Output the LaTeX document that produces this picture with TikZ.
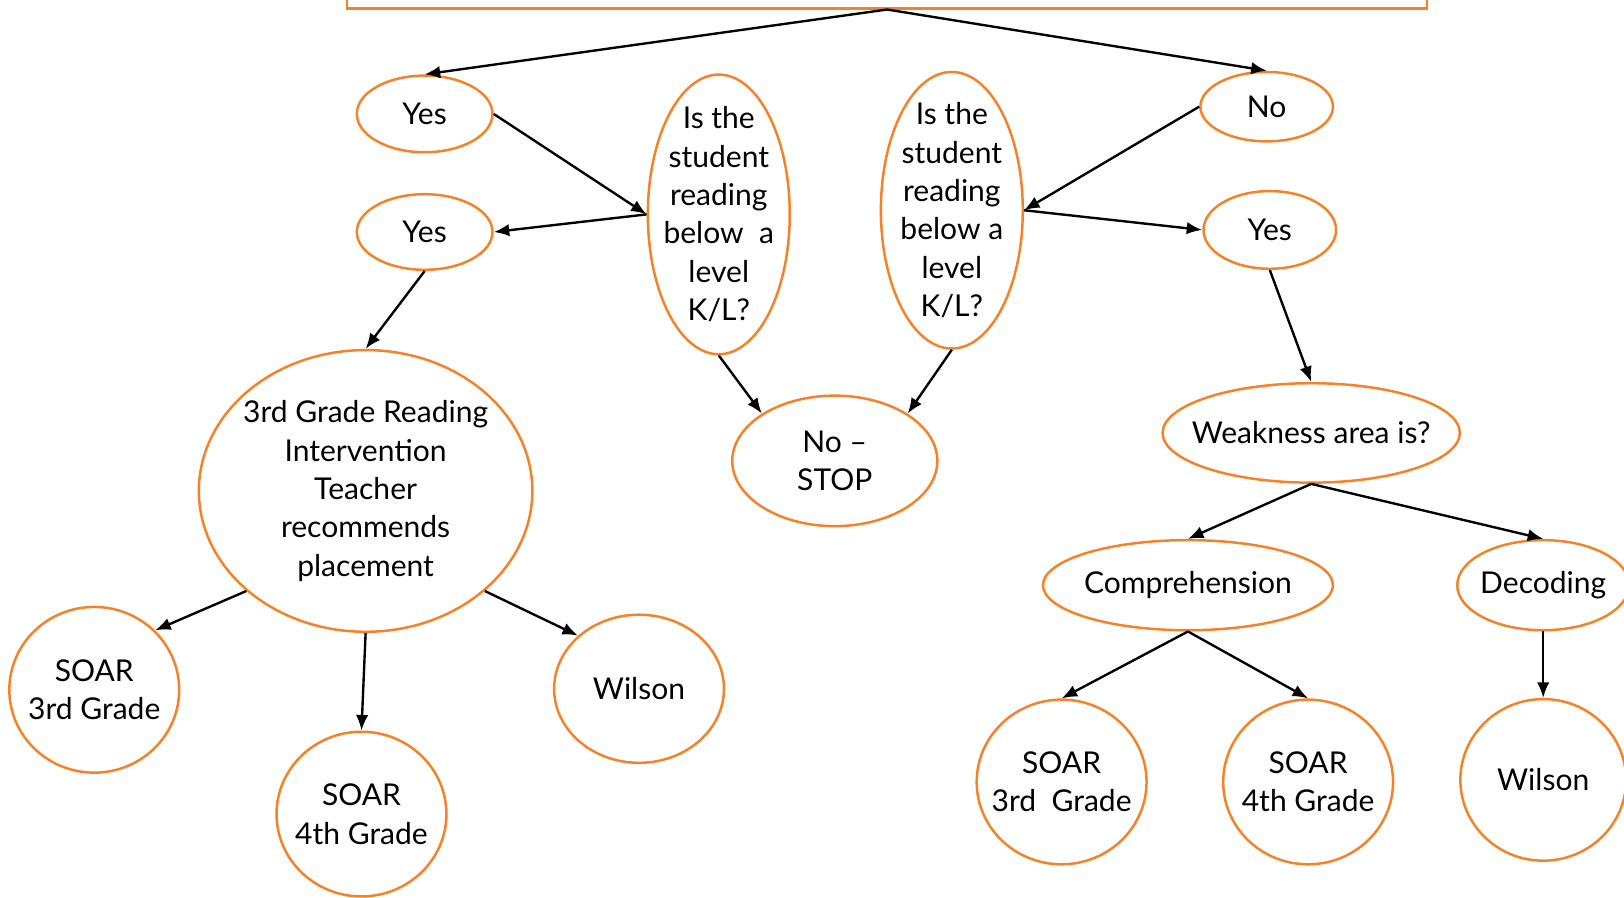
\documentclass[tikz,border=0pt]{standalone}
\usepackage{fontspec}
\setmainfont{Lato}
\usetikzlibrary{shapes.geometric,arrows.meta}

\definecolor{bubbleorange}{RGB}{245,130,40}

\tikzset{
  bubble/.style={ellipse, draw=bubbleorange, line width=2.4pt, inner sep=-25pt,
    align=center, font=\fontsize{29}{37}\selectfont},
  link/.style={line width=2.3pt, -{Latex[length=15pt,width=12pt]}}
}

\begin{document}
\begin{tikzpicture}[x=1pt,y=-1pt]
  % frame of the picture
  \useasboundingbox (0,0) rectangle (1568,867);

  % box at the top (cut off by the frame)
  \node[draw=bubbleorange, line width=2.4pt, minimum width=1043pt, minimum height=60pt] (start) at (856.5,-22) {};

  % first level
  \node[bubble, minimum width=131pt, minimum height=74pt] (yesA) at (410,110) {Yes};
  \node[bubble, minimum width=128pt, minimum height=67pt] (noA) at (1223,103) {No};
  \node[bubble, minimum width=137pt, minimum height=270pt] (askL) at (694,207)
    {Is the\\ student\\ reading\\ below~~a\\ level\\ K/L?};
  \node[bubble, minimum width=137pt, minimum height=267pt] (askR) at (919,203)
    {Is the\\ student\\ reading\\ below a\\ level\\ K/L?};

  % second level
  \node[bubble, minimum width=131pt, minimum height=73pt] (yesB) at (410,224) {Yes};
  \node[bubble, minimum width=128pt, minimum height=75pt] (yesC) at (1226,222) {Yes};
  \node[bubble, minimum width=198pt, minimum height=126pt] (stop) at (806,445) {No --\\ STOP};
  \node[bubble, minimum width=322pt, minimum height=272pt] (teacher) at (353,474)
    {3rd Grade Reading\\ Intervention\\ Teacher\\ recommends\\ placement};
  \node[bubble, minimum width=287pt, minimum height=96pt] (weak) at (1266,418) {Weakness area is?};
  \node[bubble, minimum width=280pt, minimum height=87pt] (comp) at (1147,565) {Comprehension};
  \node[bubble, minimum width=166pt, minimum height=87pt] (decod) at (1490,565) {Decoding};

  % programs
  \node[bubble, minimum width=164pt, minimum height=160pt] (soarLa) at (91,666) {SOAR\\ 3rd Grade};
  \node[bubble, minimum width=164pt, minimum height=159pt] (soarLb) at (349,786) {SOAR\\ 4th Grade};
  \node[bubble, minimum width=164pt, minimum height=143pt] (wilsonL) at (617,665) {Wilson};
  \node[bubble, minimum width=164pt, minimum height=159pt] (soarRa) at (1025,755) {SOAR\\ 3rd~~Grade};
  \node[bubble, minimum width=164pt, minimum height=159pt] (soarRb) at (1263,755) {SOAR\\ 4th Grade};
  \node[bubble, minimum width=160pt, minimum height=156pt] (wilsonR) at (1490,753) {Wilson};

  % arrows
  \draw[link] (start.south) -- (yesA.north);
  \draw[link] (start.south) -- (noA.north);
  \draw[link] (yesA.east) -- (askL.west);
  \draw[link] (askL.west) -- (yesB.east);
  \draw[link] (askL.south) -- (stop.147);
  \draw[link] (askR.south) -- (stop.33);
  \draw[link] (noA.west) -- (askR.east);
  \draw[link] (askR.east) -- (yesC.west);
  \draw[link] (yesB.south) -- (teacher.north);
  \draw[link] (yesC.south) -- (weak.north);
  \draw[link] (weak.south) -- (comp.north);
  \draw[link] (weak.south) -- (decod.north);
  \draw[link] (comp.south) -- (soarRa.north);
  \draw[link] (comp.south) -- (soarRb.north);
  \draw[link] (decod.south) -- (wilsonR.north);
  \draw[link] (teacher.220) -- (soarLa.north east);
  \draw[link] (teacher.south) -- (soarLb.north);
  \draw[link] (teacher.320) -- (wilsonL.139);
\end{tikzpicture}
\end{document}
